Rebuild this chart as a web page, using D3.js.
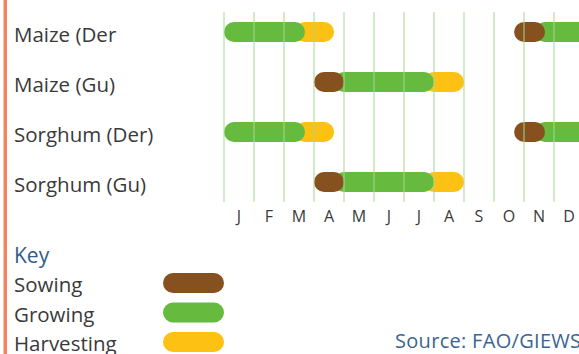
<!DOCTYPE html>
<html>
<head>
<meta charset="utf-8">
<script src="https://cdn.jsdelivr.net/npm/d3@7"></script>
<style>
  html, body { margin: 0; padding: 0; background: #fff; }
  svg { display: block; font-family: "Open Sans", "Noto Sans", sans-serif; }
</style>
</head>
<body>
<div id="calendar"></div>
<script>
// crop calendar, months counted from start of Jan (0) to end of Dec (12)
const months = ['J', 'F', 'M', 'A', 'M', 'J', 'J', 'A', 'S', 'O', 'N', 'D'];
const crops = ['Maize (Der', 'Maize (Gu)', 'Sorghum (Der)', 'Sorghum (Gu)'];

// [crop, stage, start, end]
const seasons = [
  ['Maize (Der', 'Sowing', 9.67, 10.7],
  ['Maize (Der', 'Growing', 10.7, 12.4],
  ['Maize (Der', 'Growing', 0, 2.7],
  ['Maize (Der', 'Harvesting', 2.7, 3.67],
  ['Maize (Gu)', 'Sowing', 3, 4],
  ['Maize (Gu)', 'Growing', 4, 7],
  ['Maize (Gu)', 'Harvesting', 7, 8],
  ['Sorghum (Der)', 'Sowing', 9.67, 10.7],
  ['Sorghum (Der)', 'Growing', 10.7, 12.4],
  ['Sorghum (Der)', 'Growing', 0, 2.7],
  ['Sorghum (Der)', 'Harvesting', 2.7, 3.67],
  ['Sorghum (Gu)', 'Sowing', 3, 4],
  ['Sorghum (Gu)', 'Growing', 4, 7],
  ['Sorghum (Gu)', 'Harvesting', 7, 8]
];

const stages = ['Sowing', 'Growing', 'Harvesting'];
const stageColors = ['#87501f', '#66ba3e', '#fdc114'];

const width = 579, height = 354;
const barH = 20, r = 10;

const svg = d3.select('#calendar')
  .append('svg')
  .attr('width', width)
  .attr('height', height);

// left accent rule
svg.append('rect')
  .attr('x', 3.5).attr('y', 0)
  .attr('width', 3.5).attr('height', height)
  .attr('fill', '#f3845e');

let x = d3.scaleLinear().domain([0, 12]).range([224, 584]);
let xBand = d3.scaleBand().domain(d3.range(12)).range([224, 584]);
let y = d3.scalePoint().domain(crops).range([32, 182]);
let color = d3.scaleOrdinal().domain(stages).range(stageColors);

// row labels
svg.selectAll('text.crop')
  .data(crops)
  .enter()
  .append('text')
  .attr('class', 'crop')
  .attr('x', 14)
  .attr('y', d => y(d) + 9.5)
  .attr('font-size', 20.5)
  .attr('fill', '#3a3a3a')
  .text(d => d);

// bars: draw later stages first so earlier pill ends sit on top
let order = d => stages.indexOf(d[1]);
let sorted = seasons.slice().sort((a, b) => order(b) - order(a));
svg.selectAll('rect.seg')
  .data(sorted)
  .enter()
  .append('rect')
  .attr('class', 'seg')
  .attr('x', d => x(d[2]) - (d[2] > 0 && d[1] != 'Sowing' ? r : 0))
  .attr('y', d => y(d[0]) - barH / 2)
  .attr('width', d => x(d[3]) - x(d[2]) + (d[2] > 0 && d[1] != 'Sowing' ? r : 0))
  .attr('height', barH)
  .attr('rx', r)
  .attr('fill', d => color(d[1]));

// month grid lines, faint on top of bars
svg.selectAll('line.grid')
  .data(d3.range(12))
  .enter()
  .append('line')
  .attr('class', 'grid')
  .attr('x1', d => x(d)).attr('x2', d => x(d))
  .attr('y1', 12).attr('y2', 202)
  .attr('stroke', '#a6d890')
  .attr('stroke-opacity', 0.5)
  .attr('stroke-width', 2);

// month labels
svg.selectAll('text.month')
  .data(months)
  .enter()
  .append('text')
  .attr('class', 'month')
  .attr('x', (d, i) => xBand(i) + xBand.bandwidth() / 2)
  .attr('y', 222)
  .attr('text-anchor', 'middle')
  .attr('font-size', 16)
  .attr('fill', '#3a3a3a')
  .text(d => d);

// key
svg.append('text')
  .attr('x', 14).attr('y', 263)
  .attr('font-size', 21)
  .attr('fill', '#2f5d8c')
  .text('Key');

let ky = d3.scalePoint().domain(stages).range([283, 342]);
svg.selectAll('text.key')
  .data(stages)
  .enter()
  .append('text')
  .attr('class', 'key')
  .attr('x', 14)
  .attr('y', d => ky(d) + 9)
  .attr('font-size', 20.5)
  .attr('fill', '#3a3a3a')
  .text(d => d);

svg.selectAll('rect.keypill')
  .data(stages)
  .enter()
  .append('rect')
  .attr('class', 'keypill')
  .attr('x', 163)
  .attr('y', d => ky(d) - 10)
  .attr('width', 61)
  .attr('height', 20)
  .attr('rx', 10)
  .attr('fill', d => color(d));

svg.append('text')
  .attr('x', 395).attr('y', 348)
  .attr('font-size', 20)
  .attr('letter-spacing', 0.3)
  .attr('fill', '#3b6590')
  .text('Source: FAO/GIEWS');
</script>
</body>
</html>
